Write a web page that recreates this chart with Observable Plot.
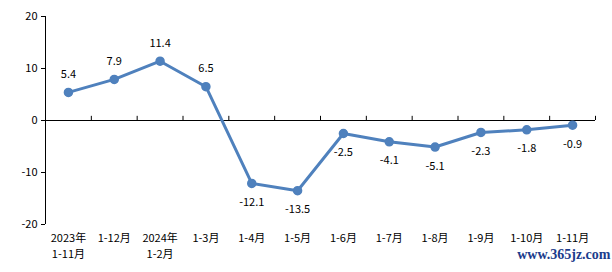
<!DOCTYPE html>
<html>
<head>
<meta charset="utf-8">
<script src="https://cdn.jsdelivr.net/npm/d3@7"></script>
<script src="https://cdn.jsdelivr.net/npm/@observablehq/plot@0.6"></script>
<style>
html,body{margin:0;padding:0;background:#fff;}
</style>
</head>
<body>
<div id="chart"></div>
<script>
const categories = ["2023年\n1-11月","1-12月","2024年\n1-2月","1-3月","1-4月","1-5月","1-6月","1-7月","1-8月","1-9月","1-10月","1-11月"];
const values = [5.4, 7.9, 11.4, 6.5, -12.1, -13.5, -2.5, -4.1, -5.1, -2.3, -1.8, -0.9];
const yTicks = [-20, -10, 0, 10, 20];
const watermark = ["www.365jz.com"];

const data = categories.map((c, i) => ({i, x: i + 0.5, label: c, value: values[i]}));
const boundaries = d3.range(1, categories.length + 1);

const lineColor = "#4f81bd";
const font = "'Noto Sans CJK SC', 'Liberation Sans', sans-serif";

const chart = Plot.plot({
  width: 612,
  height: 272,
  marginLeft: 45,
  marginRight: 17,
  marginTop: 16,
  marginBottom: 48,
  style: {fontFamily: font, fontSize: "11px", color: "#000", background: "#fff"},
  x: {domain: [0, categories.length], axis: null},
  y: {domain: [-20, 20], axis: null},
  marks: [
    Plot.axisY({ticks: yTicks, tickSize: 4, tickPadding: 4, label: null, tickFormat: d => String(d), stroke: "#000", fill: "#000", fontSize: 11}),
    Plot.ruleX([0], {y1: -20, y2: 20, stroke: "#000", strokeWidth: 1}),
    Plot.ruleY([0], {stroke: "#000", strokeWidth: 1}),
    Plot.ruleX(boundaries, {y1: 0, y2: 0.8, stroke: "#000", strokeWidth: 1}),
    Plot.text(data, {x: "x", y: -20, text: "label", dy: 6, lineAnchor: "top", lineHeight: 1.45, fill: "#000", fontSize: 11}),
    Plot.line(data, {x: "x", y: "value", stroke: lineColor, strokeWidth: 3}),
    Plot.dot(data, {x: "x", y: "value", r: 4, fill: lineColor, stroke: lineColor}),
    Plot.text(data.filter(d => d.value >= 0), {x: "x", y: "value", text: d => d.value.toFixed(1), dy: -18, fill: "#000", fontSize: 11}),
    Plot.text(data.filter(d => d.value < 0), {x: "x", y: "value", text: d => d.value.toFixed(1), dy: 19, fill: "#000", fontSize: 11}),
    Plot.text(watermark, {frameAnchor: "bottom-right", text: d => d, dx: 15, dy: 34, fill: "#1c3c8c", fontSize: 14, fontWeight: "bold", fontFamily: "'Liberation Serif', serif", textAnchor: "end"})
  ]
});
document.getElementById("chart").appendChild(chart);
</script>
</body>
</html>
